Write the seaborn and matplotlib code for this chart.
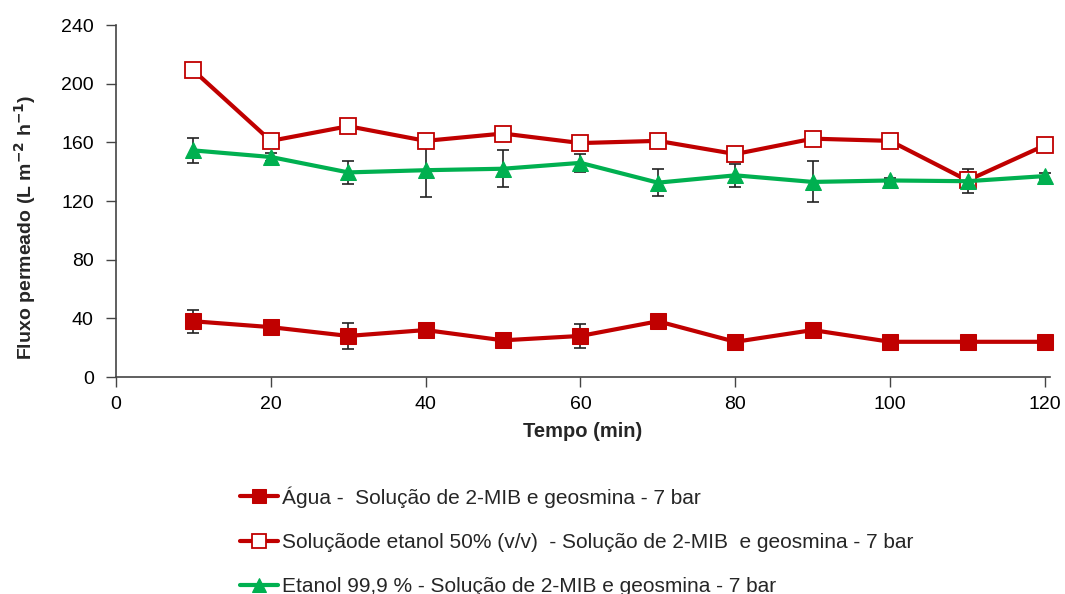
import numpy as np
import pandas as pd
import matplotlib
matplotlib.use('Agg')
import matplotlib.pyplot as plt
import seaborn as sns

# dados
tempo = [10, 20, 30, 40, 50, 60, 70, 80, 90, 100, 110, 120]
agua = [38, 34, 28, 32, 25, 28, 38, 24, 32, 24, 24, 24]
agua_err = [8, 2, 9, 2, 2, 8, 2, 2, 2, 2, 2, 2]
sol50 = [209, 161, 171, 161, 166, 159.5, 161, 152, 162.5, 161, 134, 158]
sol50_err = [2, 3, 2, 2, 2, 3, 2, 2, 2, 2, 6, 2]
et99 = [154.5, 150, 139.5, 141, 142, 146, 132.5, 137.5, 133, 134, 133.5, 137]
et99_err = [8.5, 3, 8, 18, 12.5, 6, 9, 8, 14, 2, 8, 2]

labels = ['Água -  Solução de 2-MIB e geosmina - 7 bar',
          'Soluçãode etanol 50% (v/v)  - Solução de 2-MIB  e geosmina - 7 bar',
          'Etanol 99,9 % - Solução de 2-MIB e geosmina - 7 bar']

sns.set_style('white')
plt.rcParams['font.family'] = ['Liberation Sans', 'DejaVu Sans']

red = '#C00000'
green = '#00B050'

fig = plt.figure(figsize=(10.65, 5.94), dpi=100)
ax = fig.add_axes([116 / 1065, 1 - 377 / 594, (1050 - 116) / 1065, (377 - 25) / 594])

df = pd.DataFrame({'tempo': tempo, 'agua': agua, 'sol50': sol50, 'et99': et99})

series = [
    ('agua', agua_err, dict(color=red, marker='s', markersize=12, markerfacecolor=red, markeredgecolor=red)),
    ('sol50', sol50_err, dict(color=red, marker='s', markersize=12, markerfacecolor='white', markeredgecolor=red, markeredgewidth=1.3)),
    ('et99', et99_err, dict(color=green, marker='^', markersize=12, markerfacecolor=green, markeredgecolor=green)),
]

for (col, err, st), lab in zip(series, labels):
    eb = ax.errorbar(df['tempo'], df[col], yerr=err, fmt='none', ecolor='#222222',
                     elinewidth=1.2, capsize=4, capthick=1.2, zorder=2)
    for art in eb.lines[1] + eb.lines[2]:
        art.set_clip_on(False)
    sns.lineplot(data=df, x='tempo', y=col, ax=ax, linewidth=3, zorder=3, label=lab,
                 clip_on=False, **st)

ax.set_xlim(0, 120.65)
ax.set_ylim(0, 240)
ax.set_xticks(np.arange(0, 121, 20))
ax.set_yticks(np.arange(0, 241, 40))
ax.tick_params(axis='both', labelsize=14, direction='out', length=7, width=1, color='#444444',
               left=True, bottom=True, labelcolor='black')
ax.tick_params(axis='x', pad=7)
ax.tick_params(axis='y', pad=9)
for s in ['top', 'right']:
    ax.spines[s].set_visible(False)
for s in ['left', 'bottom']:
    ax.spines[s].set_color('#444444')
    ax.spines[s].set_linewidth(1.2)

ax.set_xlabel('Tempo (min)', fontsize=14.5, fontweight='bold', labelpad=6)
ax.set_ylabel('Fluxo permeado (L m$^{\\mathbf{-2}}$ h$^{\\mathbf{-1}}$)', fontsize=14, fontweight='bold')
ax.yaxis.set_label_coords(-0.084, 0.425)

h, l = ax.get_legend_handles_labels()
ax.get_legend().remove()
fig.legend(h, l, loc='upper left', bbox_to_anchor=(240 / 1065, 1 - 486 / 594), frameon=False,
           fontsize=15, handlelength=1.8, handletextpad=0.2, labelspacing=1.22, borderpad=0,
           borderaxespad=0, markerscale=0.85)

fig.savefig('out.png', dpi=100)
